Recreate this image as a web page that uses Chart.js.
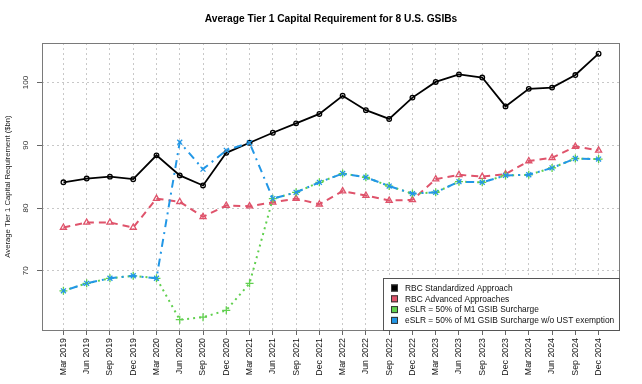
<!DOCTYPE html>
<html>
<head>
<meta charset="utf-8">
<script src="https://cdn.jsdelivr.net/npm/chart.js@4/dist/chart.umd.min.js"></script>
<style>
  html, body { margin: 0; padding: 0; background: #fff; }
  #wrap { width: 642px; height: 384px; }
</style>
</head>
<body>
<div id="wrap"><canvas id="c" width="642" height="384"></canvas></div>
<script>
const quarters = ['Mar 2019','Jun 2019','Sep 2019','Dec 2019','Mar 2020','Jun 2020','Sep 2020','Dec 2020',
  'Mar 2021','Jun 2021','Sep 2021','Dec 2021','Mar 2022','Jun 2022','Sep 2022','Dec 2022',
  'Mar 2023','Jun 2023','Sep 2023','Dec 2023','Mar 2024','Jun 2024','Sep 2024','Dec 2024'];

const rbcStandardized = [84.1,84.7,85.0,84.6,88.4,85.2,83.6,88.8,90.4,92.0,93.5,95.0,
  97.9,95.6,94.2,97.6,100.1,101.3,100.8,96.2,99.0,99.2,101.2,104.6];
const rbcAdvanced = [76.9,77.7,77.7,76.9,81.5,81.0,78.6,80.4,80.3,80.9,81.5,80.6,
  82.7,82.0,81.2,81.3,84.6,85.3,85.0,85.4,87.5,88.0,89.8,89.2];
const eslr = [66.8,68.0,68.8,69.2,68.8,62.2,62.6,63.7,68.0,81.5,82.5,84.1,
  85.5,84.9,83.5,82.3,82.5,84.2,84.1,85.2,85.3,86.4,87.9,87.8];
const eslrNoUst = [66.8,68.0,68.8,69.2,68.8,90.5,86.2,89.2,90.4,81.5,82.5,84.1,
  85.5,84.9,83.5,82.3,82.5,84.2,84.1,85.2,85.3,86.4,87.9,87.8];

const seriesLabels = ['RBC Standardized Approach','RBC Advanced Approaches',
  'eSLR = 50% of M1 GSIB Surcharge','eSLR = 50% of M1 GSIB Surcharge w/o UST exemption'];
const yTicks = [70, 80, 90, 100];
const chartTitle = 'Average Tier 1 Capital Requirement for 8 U.S. GSIBs';
const yTitle = 'Average Tier 1 Capital Requirement ($bn)';

const colors = ['#000000', '#DF536B', '#61D04F', '#2297E6'];
const FONT = '"Liberation Sans", Arial, sans-serif';

const toXY = arr => arr.map((v, i) => ({ x: i, y: v }));

const boxAndLabels = {
  id: 'boxAndLabels',
  afterDraw(chart) {
    const ctx = chart.ctx;
    const a = chart.chartArea;
    const ys = chart.scales.y;
    ctx.save();
    // plot box
    ctx.strokeStyle = '#7a7a7a';
    ctx.lineWidth = 1;
    ctx.strokeRect(Math.round(a.left) + 0.5, Math.round(a.top) + 0.5,
      Math.round(a.right - a.left) - 1, Math.round(a.bottom - a.top));
    // rotated y tick labels
    ctx.fillStyle = '#333';
    ctx.font = '8px ' + FONT;
    ctx.textAlign = 'center';
    ctx.textBaseline = 'middle';
    ys.ticks.forEach(t => {
      ctx.save();
      ctx.translate(25.5, ys.getPixelForValue(t.value));
      ctx.rotate(-Math.PI / 2);
      ctx.fillText(String(t.value), 0, 0);
      ctx.restore();
    });
    // legend
    const lw = 237, lh = 52;
    const lx = Math.round(a.right) - lw, ly = Math.round(a.bottom) - lh;
    ctx.fillStyle = '#fff';
    ctx.fillRect(lx, ly, lw, lh);
    ctx.strokeStyle = '#555';
    ctx.strokeRect(lx + 0.5, ly + 0.5, lw - 1, lh);
    ctx.textAlign = 'left';
    ctx.font = '8.4px ' + FONT;
    chart.data.datasets.forEach((ds, i) => {
      const cy = ly + 10 + i * 10.8;
      ctx.fillStyle = ds.borderColor;
      ctx.fillRect(lx + 8, cy - 3.5, 7, 7);
      ctx.strokeStyle = '#333';
      ctx.strokeRect(lx + 8.5, cy - 3, 6, 6);
      ctx.fillStyle = '#111';
      ctx.fillText(ds.label, lx + 22, cy + 0.5);
    });
    ctx.restore();
  }
};

const dashes = [[], [7, 5], [2, 4], [2, 5, 8, 5]];
const styles = ['circle', 'triangle', 'cross', 'crossRot'];
const radii = [2.3, 3.5, 4, 3.5];
const seriesData = [rbcStandardized, rbcAdvanced, eslr, eslrNoUst];

new Chart(document.getElementById('c'), {
  type: 'line',
  data: {
    datasets: seriesData.map((arr, i) => ({
      label: seriesLabels[i],
      data: toXY(arr),
      borderColor: colors[i],
      backgroundColor: colors[i],
      borderWidth: i === 0 ? 1.8 : 2,
      borderDash: dashes[i],
      pointStyle: styles[i],
      pointRadius: radii[i],
      pointBorderWidth: 1.3,
      pointBorderColor: colors[i],
      pointBackgroundColor: 'rgba(0,0,0,0)',
      tension: 0,
      order: 4 - i
    }))
  },
  options: {
    responsive: false,
    animation: false,
    layout: { padding: { left: 0, right: 22, top: 0, bottom: 0 } },
    plugins: {
      legend: { display: false },
      tooltip: { enabled: false },
      title: {
        display: true,
        text: chartTitle,
        fullSize: false,
        color: '#000',
        font: { family: FONT, size: 10.2, weight: 'bold' },
        padding: { top: 13.4, bottom: 17.4 }
      }
    },
    scales: {
      x: {
        type: 'linear',
        min: -0.92,
        max: 23.92,
        afterBuildTicks: s => { s.ticks = quarters.map((q, i) => ({ value: i })); },
        afterFit: s => { s.height = 54; },
        ticks: {
          autoSkip: false,
          minRotation: 90,
          maxRotation: 90,
          padding: 3,
          color: '#111',
          font: { family: FONT, size: 8.8 },
          callback: v => quarters[v]
        },
        grid: {
          color: '#c8c8c8',
          lineWidth: 1,
          tickLength: 5,
          tickColor: '#666',
          tickBorderDash: []
        },
        border: { display: false, dash: [2, 3] }
      },
      y: {
        type: 'linear',
        min: 60.56,
        max: 106.3,
        afterBuildTicks: s => { s.ticks = yTicks.map(v => ({ value: v })); },
        afterFit: s => { s.width = 42; },
        ticks: { display: false },
        title: {
          display: true,
          text: yTitle,
          color: '#222',
          font: { family: FONT, size: 7.7 },
          padding: { top: 3.6, bottom: 0 }
        },
        grid: {
          color: '#c8c8c8',
          lineWidth: 1,
          tickLength: 5,
          tickColor: '#666',
          tickBorderDash: []
        },
        border: { display: false, dash: [2, 3] }
      }
    }
  },
  plugins: [boxAndLabels]
});
</script>
</body>
</html>
